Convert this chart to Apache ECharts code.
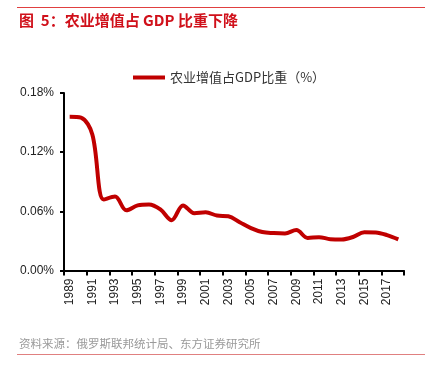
<!DOCTYPE html>
<html><head><meta charset="utf-8">
<script src="https://cdn.jsdelivr.net/npm/echarts@6/dist/echarts.min.js"></script>
<style>html,body{margin:0;padding:0;background:#fff}#c{width:430px;height:374px}</style>
</head><body><div id="c"></div>
<script>
var years = ['1989','1990','1991','1992','1993','1994','1995','1996','1997','1998','1999','2000','2001','2002','2003','2004','2005','2006','2007','2008','2009','2010','2011','2012','2013','2014','2015','2016','2017','2018'];
var share = [0.156,0.155,0.138,0.072,0.075,0.061,0.066,0.067,0.062,0.051,0.066,0.058,0.059,0.0557,0.055,0.049,0.043,0.039,0.038,0.0376,0.041,0.033,0.0338,0.0318,0.0315,0.034,0.0389,0.0386,0.0359,0.0315];
var yTicks = [0, 0.06, 0.12, 0.18];
var seriesName = '农业增值占GDP比重（%）';
var titleText = '图  5：农业增值占 GDP 比重下降';
var sourceText = '资料来源：俄罗斯联邦统计局、东方证券研究所';

var chart = echarts.init(document.getElementById('c'));
var cjk = '"Noto Sans CJK SC", sans-serif';
chart.setOption({
  animation: false,
  backgroundColor: '#fff',
  grid: {left: 64, right: 26, top: 93, bottom: 103.5, containLabel: false},
  legend: {
    top: 66, left: 128,
    itemWidth: 32, itemHeight: 4, itemGap: 4,
    icon: 'rect',
    textStyle: {fontFamily: cjk, fontSize: 13, color: '#333'},
    data: [seriesName]
  },
  xAxis: {
    type: 'category', data: years, boundaryGap: true,
    axisLine: {lineStyle: {color: '#000', width: 2}},
    axisTick: {show: true, interval: 1, length: 5, lineStyle: {color: '#000', width: 2}},
    axisLabel: {interval: 1, rotate: 90, fontFamily: 'Liberation Sans, Arial', fontSize: 12, color: '#222', margin: 8}
  },
  yAxis: {
    type: 'value', min: yTicks[0], max: yTicks[yTicks.length-1], interval: yTicks[1]-yTicks[0],
    splitLine: {show: false},
    axisLine: {show: true, lineStyle: {color: '#000', width: 2}},
    axisTick: {show: true, length: 4, lineStyle: {color: '#000', width: 2}},
    axisLabel: {formatter: function(v){return v.toFixed(2)+'%';}, fontFamily: 'Liberation Sans, Arial', fontSize: 12, color: '#222', margin: 10}
  },
  series: [{
    name: seriesName, type: 'line', data: share,
    smooth: 0.35, showSymbol: false, symbol: 'none',
    lineStyle: {color: '#c00000', width: 4},
    itemStyle: {color: '#c00000'}
  }],
  graphic: [
    {type: 'rect', shape: {x: 17, y: 7, width: 408, height: 1}, style: {fill: '#e04040'}},
    {type: 'text', left: 19, top: 13, style: {text: titleText, font: 'bold 15px ' + cjk, fill: '#d0101a'}},
    {type: 'text', left: 19, top: 338, style: {text: sourceText, font: '11.5px ' + cjk, fill: '#9a9a9a'}},
    {type: 'rect', shape: {x: 17, y: 354, width: 408, height: 1}, style: {fill: '#e08080'}}
  ]
});
</script></body></html>
